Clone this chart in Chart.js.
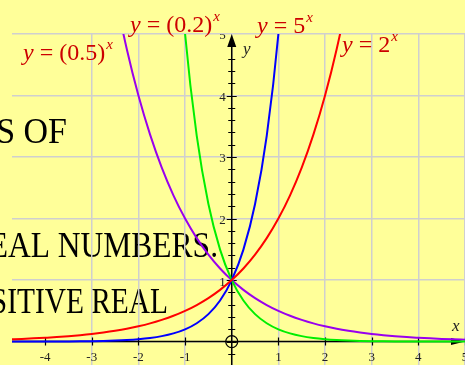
<!DOCTYPE html>
<html>
<head>
<meta charset="utf-8">
<script src="https://cdn.jsdelivr.net/npm/chart.js@4/dist/chart.umd.min.js"></script>
<style>
body { margin: 0; background: #ffff99; }
canvas { display: block; }
</style>
</head>
<body>
<canvas id="myChart" width="465" height="365"></canvas>
<script>
// sample points, x every 0.25
const xValues = [-4.75, -4.5, -4.25, -4, -3.75, -3.5, -3.25, -3, -2.75, -2.5,
    -2.25, -2, -1.75, -1.5, -1.25, -1, -0.75, -0.5, -0.25, 0,
    0.25, 0.5, 0.75, 1, 1.25, 1.5, 1.75, 2, 2.25, 2.5,
    2.75, 3, 3.25, 3.5, 3.75, 4, 4.25, 4.5, 4.75, 5];

const twoPow = [0.037, 0.044, 0.053, 0.063, 0.074, 0.088, 0.105, 0.125, 0.149, 0.177,
    0.21, 0.25, 0.297, 0.354, 0.42, 0.5, 0.595, 0.707, 0.841, 1,
    1.189, 1.414, 1.682, 2, 2.378, 2.828, 3.364, 4, 4.757, 5.657,
    6.727, null, null, null, null, null, null, null, null, null];

const fivePow = [0.0005, 0.0007, 0.0011, 0.0016, 0.0024, 0.0036, 0.0053, 0.008, 0.012, 0.0179,
    0.0267, 0.04, 0.0598, 0.0894, 0.1337, 0.2, 0.2991, 0.4472, 0.6687, 1,
    1.4953, 2.2361, 3.3437, 5, 7.4767, null, null, null, null, null,
    null, null, null, null, null, null, null, null, null, null];

const halfPow = [null, null, null, null, null, null, null, null, 6.727, 5.657,
    4.757, 4, 3.364, 2.828, 2.378, 2, 1.682, 1.414, 1.189, 1,
    0.841, 0.707, 0.595, 0.5, 0.42, 0.354, 0.297, 0.25, 0.21, 0.177,
    0.149, 0.125, 0.105, 0.088, 0.074, 0.063, 0.053, 0.044, 0.037, 0.031];

const fifthPow = [null, null, null, null, null, null, null, null, null, null,
    null, null, null, null, 7.4767, 5, 3.3437, 2.2361, 1.4953, 1,
    0.6687, 0.4472, 0.2991, 0.2, 0.1337, 0.0894, 0.0598, 0.04, 0.0267, 0.0179,
    0.012, 0.008, 0.0053, 0.0036, 0.0024, 0.0016, 0.0011, 0.0007, 0.0005, 0.0003];

const xTicks = [-4, -3, -2, -1, 1, 2, 3, 4, 5];
const yTicks = [1, 2, 3, 4, 5];
const curveLabels = [['(0.5)', 'x'], ['(0.2)', 'x'], ['5', 'x'], ['2', 'x']];
const slideText = ['GRAPHS OF', 'REAL NUMBERS.', 'POSITIVE REAL'];

var ctx = document.getElementById('myChart');

const toPoints = (vals) => {
    let pts = [];
    vals.forEach(function (v, i) {
        if (v !== null) pts.push({ x: xValues[i], y: v });
    });
    return pts;
}

const makeSeries = (vals, color) => {
    return {
        data: toPoints(vals),
        borderColor: color,
        backgroundColor: color,
        borderWidth: 2,
        pointRadius: 0,
        showLine: true,
        cubicInterpolationMode: 'monotone'
    }
}

// draws "y = 5^x" style labels: italic y, upright body, italic superscript
function drawMath(c, body, sup, x, y, size) {
    c.fillStyle = '#cc0000';
    c.textAlign = 'left';
    c.textBaseline = 'alphabetic';
    c.font = 'italic ' + size + 'px "Liberation Serif"';
    c.fillText('y', x, y);
    x += c.measureText('y').width + size * 0.25;
    c.font = size + 'px "Liberation Serif"';
    c.fillText('=', x, y);
    x += c.measureText('=').width + size * 0.25;
    c.fillText(body, x, y);
    x += c.measureText(body).width + 1;
    c.font = 'italic ' + Math.round(size * 0.62) + 'px "Liberation Serif"';
    c.fillText(sup, x, y - size * 0.45);
}

const paper = {
    id: 'paper',
    beforeDraw(chart) {
        const c = chart.ctx;
        c.save();
        c.fillStyle = '#ffff99';
        c.fillRect(0, 0, chart.width, chart.height);
        // leftover slide text behind the graph
        c.fillStyle = '#000';
        c.font = '35px "Liberation Serif"';
        c.textAlign = 'right';
        const spots = [[67, 143, 0.97], [218, 257, 0.9], [168, 313, 0.84]];
        slideText.forEach(function (t, i) {
            c.save();
            c.translate(spots[i][0], spots[i][1]);
            c.scale(spots[i][2], 1);
            c.fillText(t, 0, 0);
            c.restore();
        });
        c.restore();
    },
    beforeDatasetsDraw(chart) {
        const c = chart.ctx;
        const area = chart.chartArea;
        const xs = chart.scales.x, ys = chart.scales.y;
        const ox = xs.getPixelForValue(0), oy = ys.getPixelForValue(0);
        const top = ys.getPixelForValue(5);
        c.save();
        c.beginPath();
        c.rect(area.left, area.top, area.right - area.left, area.bottom - area.top);
        c.clip();
        c.strokeStyle = '#000';
        c.fillStyle = '#000';
        c.lineWidth = 1.5;
        c.beginPath();
        c.moveTo(area.left, oy); c.lineTo(area.right - 8, oy);
        c.moveTo(ox, area.bottom); c.lineTo(ox, top + 8);
        c.stroke();
        // arrow heads
        c.beginPath();
        c.moveTo(ox, top); c.lineTo(ox - 4.5, top + 13); c.lineTo(ox + 4.5, top + 13);
        c.closePath(); c.fill();
        c.beginPath();
        c.moveTo(area.right, oy); c.lineTo(area.right - 14, oy - 3.5); c.lineTo(area.right - 14, oy + 3.5);
        c.closePath(); c.fill();
        // ticks
        c.lineWidth = 1.2;
        c.beginPath();
        for (let v = -1; v <= 24; v++) {
            const py = Math.round(ys.getPixelForValue(v / 5)) + 0.5;
            const len = v % 5 === 0 ? 5 : 3.5;
            c.moveTo(ox - len, py); c.lineTo(ox + len, py);
        }
        xTicks.forEach(function (v) {
            const px = Math.round(xs.getPixelForValue(v)) + 0.5;
            c.moveTo(px, oy - 4); c.lineTo(px, oy + 4);
        });
        c.stroke();
        // origin circle
        c.lineWidth = 1.3;
        c.beginPath();
        c.arc(ox, oy, 6, 0, Math.PI * 2);
        c.stroke();
        // tick labels
        c.fillStyle = '#222';
        c.font = '13px "Liberation Serif"';
        c.textAlign = 'center';
        c.textBaseline = 'alphabetic';
        xTicks.forEach(function (v) {
            c.fillText(String(v), xs.getPixelForValue(v), oy + 19);
        });
        c.textAlign = 'right';
        c.textBaseline = 'middle';
        yTicks.forEach(function (v) {
            c.fillText(String(v), ox - 6, ys.getPixelForValue(v) + 2);
        });
        // axis names
        c.font = 'italic 17px "Liberation Serif"';
        c.textAlign = 'center';
        c.fillText('x', xs.getPixelForValue(4.8), oy - 15);
        c.fillText('y', ox + 15, top + 16);
        c.restore();
    },
    afterDatasetsDraw(chart) {
        const c = chart.ctx;
        c.save();
        const spots = [[23, 60], [130, 32], [257, 33], [342, 52]];
        curveLabels.forEach(function (lab, i) {
            drawMath(c, lab[0], lab[1], spots[i][0], spots[i][1], 24);
        });
        c.restore();
    }
};

function onlyWhole(scale) {
    scale.ticks = scale.ticks.filter(t => Number.isInteger(t.value));
}

var myChart = new Chart(ctx, {
    type: 'scatter',
    data: {
        datasets: [
            makeSeries(twoPow, '#ff0000'),
            makeSeries(fivePow, '#0000ff'),
            makeSeries(fifthPow, '#00ee00'),
            makeSeries(halfPow, '#9900ee')
        ]
    },
    options: {
        responsive: false,
        animation: false,
        layout: { padding: { left: 12, top: 34, right: 0, bottom: 0 } },
        plugins: {
            legend: { display: false },
            tooltip: { enabled: false }
        },
        scales: {
            x: {
                type: 'linear',
                min: -4.71,
                max: 5,
                afterBuildTicks: onlyWhole,
                ticks: { display: false, stepSize: 1 },
                border: { display: false },
                grid: { color: '#cfcfcf', lineWidth: 1.5, drawTicks: false, tickLength: 0 }
            },
            y: {
                min: -0.38,
                max: 5,
                afterBuildTicks: onlyWhole,
                ticks: { display: false, stepSize: 1 },
                border: { display: false },
                grid: { color: '#cfcfcf', lineWidth: 1.5, drawTicks: false, tickLength: 0 }
            }
        }
    },
    plugins: [paper]
});
</script>
</body>
</html>
